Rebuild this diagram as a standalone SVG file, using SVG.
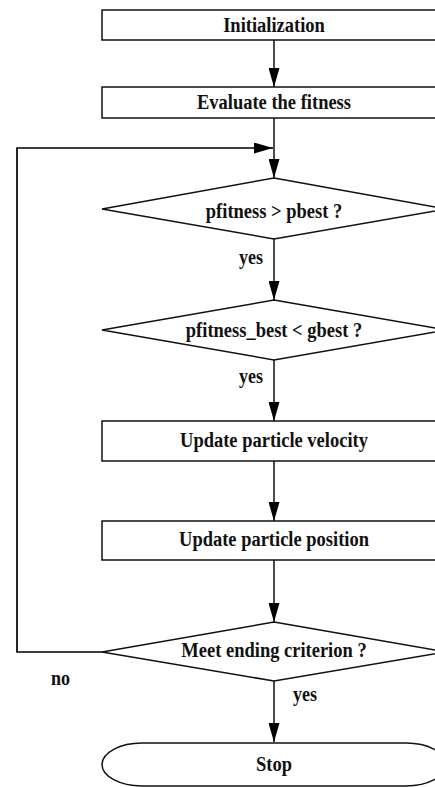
<svg xmlns="http://www.w3.org/2000/svg" width="435" height="787" viewBox="0 0 435 787">
<style>
.shape{fill:#fff;stroke:#111;stroke-width:1.5}
.line{fill:none;stroke:#000;stroke-width:1.4}
.t{font-family:"Liberation Serif","Times New Roman",serif;font-weight:bold;font-size:18.5px;fill:#111;text-anchor:middle}
.lbl{font-family:"Liberation Serif","Times New Roman",serif;font-weight:bold;font-size:18px;fill:#111}
</style>
<defs>
<marker id="ah" markerUnits="userSpaceOnUse" markerWidth="19" markerHeight="11" refX="19" refY="5.5" orient="auto">
<path d="M0,0 L19,5.5 L0,11 z" fill="#000"/>
</marker>
</defs>
<rect width="435" height="787" fill="#fff"/>
<g id="connectors">
<line class="line" x1="274" y1="40" x2="274" y2="87" marker-end="url(#ah)"/>
<line class="line" x1="274" y1="118" x2="274" y2="178" marker-end="url(#ah)"/>
<polyline class="line" points="105,652 17,652 17,148 273,148" marker-end="url(#ah)" style="stroke-width:1.7"/>
<line class="line" x1="274" y1="239" x2="274" y2="300" marker-end="url(#ah)"/>
<line class="line" x1="274" y1="360" x2="274" y2="421" marker-end="url(#ah)"/>
<line class="line" x1="274" y1="461" x2="274" y2="521" marker-end="url(#ah)"/>
<line class="line" x1="274" y1="560" x2="274" y2="622" marker-end="url(#ah)"/>
<line class="line" x1="274" y1="681" x2="274" y2="742" marker-end="url(#ah)"/>
<text class="lbl" transform="translate(239,264) scale(1,1.13)">yes</text>
<text class="lbl" transform="translate(239,383) scale(1,1.13)">yes</text>
<text class="lbl" transform="translate(51,685) scale(1,1.13)">no</text>
<text class="lbl" transform="translate(293,701) scale(1,1.13)">yes</text>
</g>
<g id="init">
<rect class="shape" x="102" y="10" width="344" height="30"/>
<text class="t" transform="translate(274,32) scale(1,1.13)">Initialization</text>
</g>
<g id="evaluate">
<rect class="shape" x="102" y="87" width="344" height="31"/>
<text class="t" transform="translate(274,109) scale(1,1.13)">Evaluate the fitness</text>
</g>
<g id="decision1">
<polygon class="shape" points="274,178 446,209 274,239 102,209"/>
<text class="t" transform="translate(274,218) scale(1,1.13)">pfitness &gt; pbest ?</text>
</g>
<g id="decision2">
<polygon class="shape" points="274,300 446,330 274,360 102,330"/>
<text class="t" transform="translate(274,337) scale(1,1.13)">pfitness_best &lt; gbest ?</text>
</g>
<g id="velocity">
<rect class="shape" x="102" y="421" width="344" height="40"/>
<text class="t" transform="translate(274,447) scale(1,1.13)">Update particle velocity</text>
</g>
<g id="position">
<rect class="shape" x="102" y="521" width="344" height="39"/>
<text class="t" transform="translate(274,546) scale(1,1.13)">Update particle position</text>
</g>
<g id="decision3">
<polygon class="shape" points="274,622 446,652 274,681 102,652"/>
<text class="t" transform="translate(274,657) scale(1,1.13)">Meet ending criterion ?</text>
</g>
<g id="stop">
<path class="shape" d="M142,743 H406 A40,21.5 0 0 1 406,786 H142 A40,21.5 0 0 1 142,743 Z"/>
<text class="t" transform="translate(274,771) scale(1,1.13)">Stop</text>
</g>
</svg>
